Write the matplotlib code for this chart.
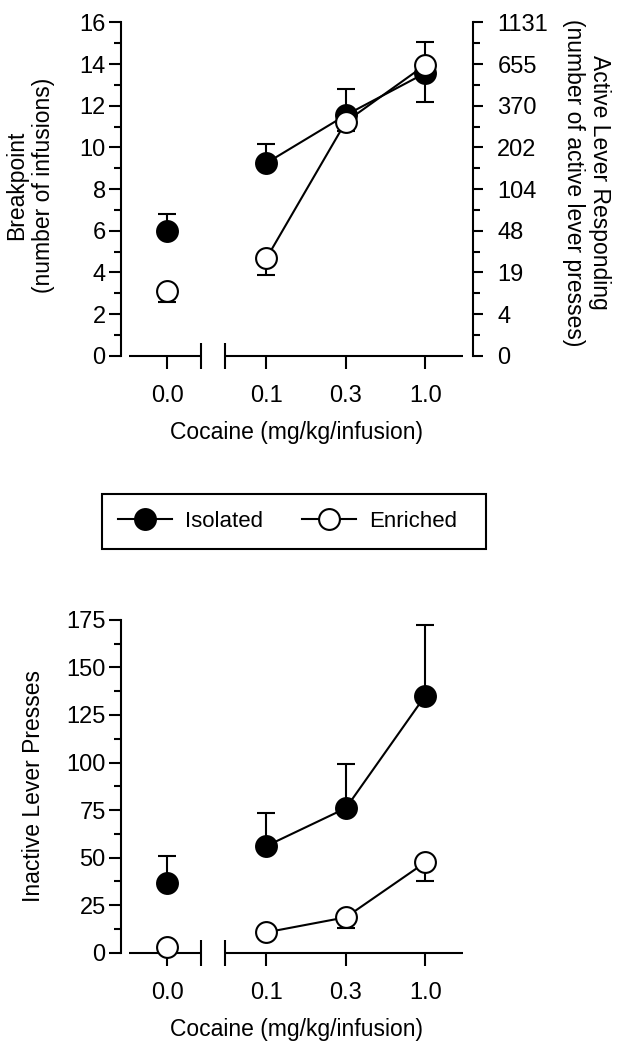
import numpy as np
import matplotlib
matplotlib.use('Agg')
import matplotlib.pyplot as plt
from matplotlib.lines import Line2D
from matplotlib.patches import Rectangle

plt.rcParams['font.family'] = ['Liberation Sans', 'DejaVu Sans']
plt.rcParams['font.size'] = 16.5

# Cocaine doses (categorical, broken axis between 0.0 and 0.1)
doses = ['0.0', '0.1', '0.3', '1.0']
xpos = np.array([0, 1.25, 2.25, 3.25])

# Top panel: breakpoint (number of infusions)
iso_bp = [6.0, 9.25, 11.55, 13.57]
iso_bp_lo = [0, 0, 0, 1.38]
iso_bp_hi = [0.8, 0.92, 1.24, 0]
enr_bp = [3.1, 4.67, 11.23, 13.96]
enr_bp_lo = [0.5, 0.8, 0.43, 0]
enr_bp_hi = [0, 0, 0, 1.11]
bp_ticks = [0, 2, 4, 6, 8, 10, 12, 14, 16]
active_labels = ['0', '4', '19', '48', '104', '202', '370', '655', '1131']

# Bottom panel: inactive lever presses
iso_inact = [36.5, 56.1, 76.0, 135.2]
iso_inact_lo = [0, 0, 0, 0]
iso_inact_hi = [14.4, 17.2, 23.3, 37.2]
enr_inact = [3.2, 10.7, 18.6, 47.5]
enr_inact_lo = [1.5, 2.5, 5.8, 9.8]
enr_inact_hi = [0, 0, 0, 0]
inact_ticks = [0, 25, 50, 75, 100, 125, 150, 175]

LW = 1.5
MS = 15
TICK_FS = 17


def draw_series(ax, y, lo, hi, face, z):
    ax.errorbar(xpos, y, yerr=[lo, hi], fmt='none', ecolor='black',
                elinewidth=LW, capsize=6.5, capthick=LW, zorder=1, clip_on=False)
    ax.plot(xpos[1:], y[1:], color='black', lw=LW, zorder=2)
    ax.plot(xpos, y, 'o', ms=MS, mfc=face, mec='black', mew=LW, zorder=z, clip_on=False)


def style_axis(ax, ymax, major, minor):
    ax.set_xlim(-0.58, 3.85)
    ax.set_ylim(0, ymax)
    for s in ['top', 'right', 'bottom']:
        ax.spines[s].set_visible(False)
    ax.spines['left'].set_linewidth(LW)
    ax.set_xticks(xpos, doses)
    ax.set_yticks(major)
    ax.set_yticks(minor, minor=True)
    ax.tick_params(axis='y', which='major', length=9, width=LW, pad=2, labelsize=TICK_FS)
    ax.tick_params(axis='y', which='minor', length=5, width=LW)
    ax.tick_params(axis='x', length=9.5, width=LW, pad=11.5, labelsize=TICK_FS)
    # broken x axis
    ax.plot([-0.478, 0.428], [0, 0], color='black', lw=LW, clip_on=False, solid_capstyle='butt')
    ax.plot([0.73, 3.72], [0, 0], color='black', lw=LW, clip_on=False, solid_capstyle='butt')
    ax.plot([0.428, 0.73], [0, 0], ls='none', marker='|', ms=19, mew=LW,
            color='black', clip_on=False)
    ax.set_xlabel('Cocaine (mg/kg/infusion)', labelpad=10)


fig = plt.figure(figsize=(6.17, 10.5), dpi=100)

# top panel
ax1 = fig.add_axes([0.1961, 0.6612, 0.5705, 0.3175])
style_axis(ax1, 16, bp_ticks, np.arange(1, 16, 2))
draw_series(ax1, iso_bp, iso_bp_lo, iso_bp_hi, 'black', 3)
draw_series(ax1, enr_bp, enr_bp_lo, enr_bp_hi, 'white', 4)
ax1.set_ylabel('Breakpoint\n(number of infusions)')
ax1.yaxis.set_label_coords(-0.188, 0.51)

ax2 = ax1.twinx()
ax2.set_ylim(0, 16)
for s in ['top', 'left', 'bottom']:
    ax2.spines[s].set_visible(False)
ax2.spines['right'].set_linewidth(LW)
ax2.set_yticks(bp_ticks, active_labels)
ax2.set_yticks(np.arange(1, 16, 2), minor=True)
ax2.tick_params(axis='y', which='major', length=7.5, width=LW, pad=10, labelsize=TICK_FS)
ax2.tick_params(axis='y', which='minor', length=5, width=LW)
ax2.set_ylabel('Active Lever Responding\n(number of active lever presses)',
               rotation=270, va='bottom')
ax2.yaxis.set_label_coords(1.252, 0.52)

# bottom panel
ax3 = fig.add_axes([0.1961, 0.0927, 0.5705, 0.3169])
style_axis(ax3, 175, inact_ticks, np.arange(12.5, 175, 25))
draw_series(ax3, iso_inact, iso_inact_lo, iso_inact_hi, 'black', 3)
draw_series(ax3, enr_inact, enr_inact_lo, enr_inact_hi, 'white', 4)
ax3.set_ylabel('Inactive Lever Presses')
ax3.yaxis.set_label_coords(-0.216, 0.5)

# legend between panels, with its own box
fig.patches.append(Rectangle((102 / 617, 1 - 549 / 1050), 384 / 617, 55 / 1050,
                             transform=fig.transFigure, fill=False,
                             edgecolor='black', lw=LW))
handles = [Line2D([], [], color='black', lw=LW, marker='o', ms=MS, mfc='black', mec='black', mew=LW),
           Line2D([], [], color='black', lw=LW, marker='o', ms=MS, mfc='white', mec='black', mew=LW)]
fig.legend(handles, ['Isolated', 'Enriched'], loc='center left',
           bbox_to_anchor=(118 / 617, 1 - 521.5 / 1050), ncol=2, frameon=False,
           fontsize=16, handlelength=2.43, handletextpad=0.59,
           columnspacing=1.75, borderpad=0, borderaxespad=0, numpoints=1)

fig.savefig('out.png', dpi=100)
